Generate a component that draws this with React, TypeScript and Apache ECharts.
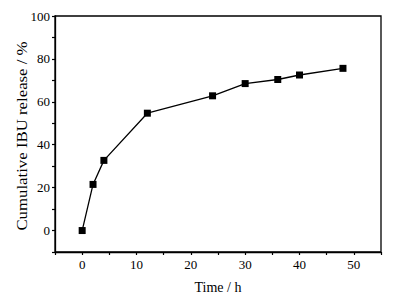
import React, { useEffect, useRef } from "react";
import * as echarts from "echarts";

const timeHours = [0, 2, 4, 12, 24, 30, 36, 40, 48];
const releasePct = [0, 21.5, 32.7, 54.7, 62.8, 68.5, 70.4, 72.5, 75.6];
const xLabels = [0, 10, 20, 30, 40, 50];
const yLabels = [0, 20, 40, 60, 80, 100];

const FONT = "Liberation Serif";

export default function App() {
  const ref = useRef<HTMLDivElement>(null);
  useEffect(() => {
    if (!ref.current) return;
    const chart = echarts.init(ref.current, undefined, { renderer: "svg" });
    chart.setOption({
      animation: false,
      backgroundColor: "#fff",
      grid: {
        left: 55,
        top: 16,
        right: 14,
        bottom: 42,
        show: true,
        borderColor: "#000",
        borderWidth: 1.3,
        backgroundColor: "transparent",
      },
      xAxis: {
        type: "value",
        min: -5,
        max: 55,
        interval: 5,
        name: "Time / h",
        nameLocation: "middle",
        nameGap: 28,
        nameTextStyle: { fontFamily: FONT, fontSize: 14, color: "#000" },
        axisLine: { show: true, onZero: false, lineStyle: { color: "#000", width: 1.3 } },
        axisTick: { show: true, length: 3, inside: false, lineStyle: { color: "#000", width: 1.2 } },
        axisLabel: {
          fontFamily: FONT,
          fontSize: 13,
          color: "#000",
          margin: 6,
          formatter: (v: number) => (xLabels.includes(v) ? String(v) : ""),
        },
        splitLine: { show: false },
      },
      yAxis: {
        type: "value",
        min: -10,
        max: 100,
        interval: 10,
        axisLine: { show: true, onZero: false, lineStyle: { color: "#000", width: 1.3 } },
        axisTick: { show: true, length: 3, inside: false, lineStyle: { color: "#000", width: 1.2 } },
        axisLabel: {
          fontFamily: FONT,
          fontSize: 13,
          color: "#000",
          margin: 5,
          formatter: (v: number) => (yLabels.includes(v) ? String(v) : ""),
        },
        splitLine: { show: false },
      },
      graphic: [
        {
          type: "text",
          x: 22,
          y: 136,
          rotation: Math.PI / 2,
          scaleX: 1.12,
          style: {
            text: "Cumulative IBU release / %",
            font: `15px "${FONT}"`,
            fill: "#000",
            align: "center",
            verticalAlign: "middle",
          },
        },
      ],
      series: [
        {
          type: "line",
          data: timeHours.map((t, i) => [t, releasePct[i]]),
          symbol: "rect",
          symbolSize: 7,
          lineStyle: { color: "#000", width: 1.3 },
          itemStyle: { color: "#000" },
        },
      ],
    });
    return () => chart.dispose();
  }, []);
  return <div ref={ref} style={{ width: 395, height: 299, position: "absolute", left: 0, top: 0 }} />;
}
